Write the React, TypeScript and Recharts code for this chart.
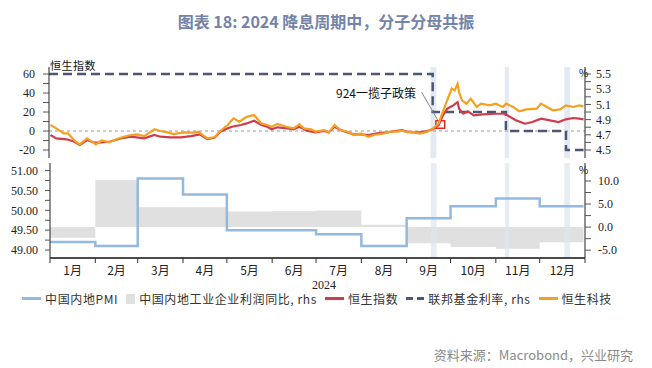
import { ComposedChart, Line, Area, XAxis, YAxis, ReferenceArea, ReferenceLine } from "recharts";

// day of year 2024 (0 = 1 Jan)
const monthStarts = [0, 31, 60, 91, 121, 152, 182, 213, 244, 274, 305, 335, 366];
const monthLabels = ["1月", "2月", "3月", "4月", "5月", "6月", "7月", "8月", "9月", "10月", "11月", "12月"];

const pmiValues = [49.2, 49.1, 50.8, 50.4, 49.5, 49.5, 49.4, 49.1, 49.8, 50.1, 50.3, 50.1];
const profitValues = [-2.3, 10.2, 4.3, 4.3, 3.4, 3.5, 3.6, 0.5, -3.5, -4.3, -4.7, -3.3];

const fedDays = [0, 262, 312, 353, 365];
const fedValues = [5.5, 5.0, 4.75, 4.5, 4.5];

const hsiDays = [1, 5, 12, 17, 21, 26, 31, 36, 42, 49, 56, 65, 72, 76, 83, 90, 97, 103, 108, 113, 117, 122, 125, 131, 135, 140, 145, 149, 152, 156, 163, 167, 171, 176, 182, 188, 191, 195, 199, 204, 208, 213, 218, 224, 231, 238, 241, 245, 248, 253, 258, 262, 266, 269, 272, 276, 279, 280, 283, 286, 290, 296, 305, 311, 315, 319, 325, 330, 336, 342, 348, 353, 358, 362, 365];
const hsiValues = [-4.2, -7.7, -8.7, -11, -14.7, -9.5, -12.3, -12, -11, -7.7, -6, -7.7, -4.2, -6, -6.6, -6.6, -5.3, -3.5, -8.4, -7, -0.7, 2.8, 4.5, 6.3, 8, 10.8, 6.3, 4.5, 1.8, 3.9, 2.8, 1.8, 4.5, 0.3, -1.4, 0, -1.4, 4.5, 1, -1.4, -3.5, -3.5, -4.2, -2.5, -1.4, 0.3, 1, -0.7, -1.4, -1.4, 0, 1.8, 6, 16.5, 23.5, 27, 30.5, 23.5, 18.2, 20.7, 16.5, 17.5, 18.2, 18.2, 14.7, 11.2, 7.7, 9.5, 13, 11.2, 9.5, 12.3, 13.7, 13, 12.3];

const hstDays = [1, 5, 10, 13, 18, 21, 26, 32, 36, 41, 46, 51, 56, 60, 65, 72, 76, 81, 85, 92, 99, 102, 108, 113, 117, 122, 125, 126, 130, 135, 140, 145, 149, 152, 156, 162, 167, 171, 174, 179, 182, 188, 191, 195, 199, 204, 208, 213, 218, 222, 229, 233, 238, 241, 245, 248, 253, 258, 262, 266, 268, 271, 275, 277, 279, 280, 282, 285, 288, 292, 295, 301, 305, 310, 312, 317, 321, 326, 333, 336, 340, 344, 349, 353, 358, 362, 365];
const hstValues = [6.3, 2.8, -2.5, -2.5, -11, -14, -7.7, -14, -10, -12, -8.7, -6, -4.2, -3.5, -5.3, 1.8, 0, -1.4, -3.2, -1.4, -1.7, -0.7, -7.7, -6.6, 0, 6.3, 11.6, 13.3, 9.8, 15, 16.8, 8, 6.3, 4.5, 7.4, 4.5, 2.8, 7, 2.8, 1.8, -0.7, 1, -1.4, 6.3, 1, -0.7, -4.2, -2.5, -6, -4.2, -2.5, -0.7, -0.7, 0.3, -1.4, -1, -2.8, -1, 2.5, 7.7, 16.5, 28.8, 44.6, 42.8, 49.8, 41, 32.3, 28.8, 34, 25.3, 28.8, 27, 28.8, 25.3, 28.8, 25.3, 20.7, 22.8, 23.5, 28.8, 25.3, 21.8, 22.8, 27, 25.3, 27, 26];

const fomcBands = [[260.5, 264.5], [311.2, 314.2], [351.8, 355.7]];

const monthly = monthStarts.map((d, i) => ({
  day: i === 12 ? 365 : d,
  pmi: pmiValues[Math.min(i, 11)],
  profit: profitValues[Math.min(i, 11)],
}));
const fedData = fedDays.map((d, i) => ({ day: d, fed: fedValues[i] }));
const hsiData = hsiDays.map((d, i) => ({ day: d, hsi: hsiValues[i] }));
const hstData = hstDays.map((d, i) => ({ day: d, hst: hstValues[i] }));

const W = 652;
const PX_PER_DAY = 535 / 366;
const serif = "'Liberation Serif', 'DejaVu Serif', serif";
const cjk = "'Noto Sans CJK SC', sans-serif";
const tickStyle = { fontSize: 12, fill: "#222", fontFamily: serif };

function MonthTick(props: any) {
  const { x, y, payload } = props;
  const i = monthStarts.indexOf(payload.value);
  if (i < 0 || i >= 12) return <g />;
  const mid = ((monthStarts[i + 1] - monthStarts[i]) / 2) * PX_PER_DAY;
  return (
    <text x={x + mid} y={y} dy="0.71em" textAnchor="middle" fontSize={12} fill="#222" fontFamily={cjk}>
      {monthLabels[i]}
    </text>
  );
}

function LegendItem({ mark, label }: { mark: React.ReactNode; label: string }) {
  return (
    <div style={{ display: "flex", alignItems: "center", gap: 4 }}>
      {mark}
      <span>{label}</span>
    </div>
  );
}

const lineMark = (c: string) => <div style={{ width: 19, height: 3, background: c }} />;

export default function App() {
  return (
    <div style={{ position: "absolute", left: 0, top: 0, width: W, height: 368, background: "#fff", fontFamily: cjk }}>
      <div style={{ position: "absolute", top: 9, width: W, textAlign: "center", fontSize: 16, fontWeight: 700, color: "#7383a9" }}>
        图表 18: 2024 降息周期中，分子分母共振
      </div>

      <div style={{ position: "absolute", top: 0, left: 0 }}>
        <ComposedChart width={W} height={160} margin={{ top: 67, right: 0, bottom: 2, left: 0 }}>
          <XAxis type="number" dataKey="day" domain={[0, 366]} height={0} tick={false} tickLine={false} axisLine={{ stroke: "#111", strokeWidth: 1.5 }} />
          <YAxis yAxisId="l" domain={[-28.4, 67.4]} allowDataOverflow ticks={[-20, -10, 0, 10, 20, 30, 40, 50, 60]} interval={0}
            tickFormatter={(v: number) => (v % 20 === 0 ? String(v) : "")} width={49} tickSize={6} tickMargin={8}
            tick={tickStyle} axisLine={{ stroke: "#222" }} tickLine={{ stroke: "#555" }} />
          <YAxis yAxisId="r" orientation="right" domain={[4.395, 5.5925]} allowDataOverflow interval={0}
            ticks={[4.5, 4.6, 4.7, 4.8, 4.9, 5.0, 5.1, 5.2, 5.3, 5.4, 5.5]}
            tickFormatter={(v: number) => (Math.round(v * 10) % 2 === 1 ? v.toFixed(1) : "")} width={67} tickSize={6} tickMargin={5}
            tick={tickStyle} axisLine={{ stroke: "#222" }} tickLine={{ stroke: "#555" }} />
          {fomcBands.map((b, i) => (
            <ReferenceArea key={i} yAxisId="l" x1={b[0]} x2={b[1]} fill="#dbe5f1" fillOpacity={0.8} stroke="none" />
          ))}
          <ReferenceLine yAxisId="l" y={0} stroke="#999" strokeDasharray="3 3" />
          <Line yAxisId="r" data={fedData} dataKey="fed" type="stepAfter" stroke="#4b5774" strokeWidth={2.5} strokeDasharray="9 5" dot={false} isAnimationActive={false} />
          <Line yAxisId="l" data={hsiData} dataKey="hsi" type="linear" stroke="#cf3d4d" strokeWidth={2.2} dot={false} isAnimationActive={false} />
          <Line yAxisId="l" data={hstData} dataKey="hst" type="linear" stroke="#f5a021" strokeWidth={2.2} dot={false} isAnimationActive={false} />
          <ReferenceLine yAxisId="l" segment={[{ x: 254.4, y: 41 }, { x: 265.4, y: 11.6 }]} stroke="#888" strokeWidth={1} />
          <ReferenceArea yAxisId="l" x1={264.2} x2={270.2} y1={2.8} y2={10.8} fill="none" stroke="#e8262a" strokeWidth={1.5} />
        </ComposedChart>
      </div>

      <div style={{ position: "absolute", left: 50, top: 57, fontSize: 11, color: "#111", letterSpacing: 0.5 }}>恒生指数</div>
      <div style={{ position: "absolute", left: 579, top: 65, fontSize: 10, color: "#111" }}>%</div>
      <div style={{ position: "absolute", left: 579, top: 162, fontSize: 10, color: "#111" }}>%</div>
      <div style={{ position: "absolute", right: W - 416, top: 84, fontSize: 12, color: "#111" }}>924一揽子政策</div>

      <div style={{ position: "absolute", top: 160, left: 0 }}>
        <ComposedChart width={W} height={120} data={monthly} margin={{ top: 3, right: 0, bottom: 0, left: 0 }}>
          <XAxis type="number" dataKey="day" domain={[0, 366]} ticks={monthStarts} interval={0} height={22}
            tick={<MonthTick />} tickSize={5} tickMargin={3} axisLine={{ stroke: "#111", strokeWidth: 1.5 }} tickLine={{ stroke: "#333" }} />
          <YAxis yAxisId="l" domain={[48.8, 51.19]} allowDataOverflow interval={0}
            ticks={[49, 49.25, 49.5, 49.75, 50, 50.25, 50.5, 50.75, 51]}
            tickFormatter={(v: number) => (Math.round(v * 100) % 50 === 0 ? v.toFixed(2) : "")} width={50} tickSize={5} tickMargin={7}
            tick={tickStyle} axisLine={{ stroke: "#222" }} tickLine={{ stroke: "#555" }} />
          <YAxis yAxisId="r" orientation="right" domain={[-6.7, 13.9]} allowDataOverflow interval={0}
            ticks={[-5, -2.5, 0, 2.5, 5, 7.5, 10]}
            tickFormatter={(v: number) => (v % 5 === 0 ? v.toFixed(1) : "")} width={67} tickSize={6} tickMargin={7}
            tick={tickStyle} axisLine={{ stroke: "#222" }} tickLine={{ stroke: "#555" }} />
          <Area yAxisId="r" dataKey="profit" type="stepAfter" baseValue={0} fill="#e0e0e0" fillOpacity={1} stroke="none" dot={false} activeDot={false} isAnimationActive={false} />
          {fomcBands.map((b, i) => (
            <ReferenceArea key={i} yAxisId="l" x1={b[0]} x2={b[1]} fill="#dbe5f1" fillOpacity={0.7} stroke="none" />
          ))}
          <Line yAxisId="l" dataKey="pmi" type="stepAfter" stroke="#93b9df" strokeWidth={2.5} dot={false} isAnimationActive={false} />
        </ComposedChart>
      </div>

      <div style={{ position: "absolute", top: 278, width: W - 4, textAlign: "center", fontSize: 12, fontFamily: serif, color: "#222" }}>2024</div>

      <div style={{ position: "absolute", top: 290, left: 0, width: W - 18, display: "flex", justifyContent: "center", gap: 8, fontSize: 12, color: "#333", letterSpacing: 0.6 }}>
        <LegendItem mark={lineMark("#93b9df")} label="中国内地PMI" />
        <LegendItem mark={<div style={{ width: 9, height: 10, background: "#e0e0e0" }} />} label="中国内地工业企业利润同比, rhs" />
        <LegendItem mark={lineMark("#cf3d4d")} label="恒生指数" />
        <LegendItem
          mark={
            <div style={{ display: "flex", gap: 4 }}>
              <div style={{ width: 7, height: 3, background: "#4b5774" }} />
              <div style={{ width: 7, height: 3, background: "#4b5774" }} />
            </div>
          }
          label="联邦基金利率, rhs"
        />
        <LegendItem mark={lineMark("#f5a021")} label="恒生科技" />
      </div>

      <div style={{ position: "absolute", top: 345, right: 19, fontSize: 13, color: "#8a8a8a" }}>资料来源：Macrobond，兴业研究</div>
    </div>
  );
}
